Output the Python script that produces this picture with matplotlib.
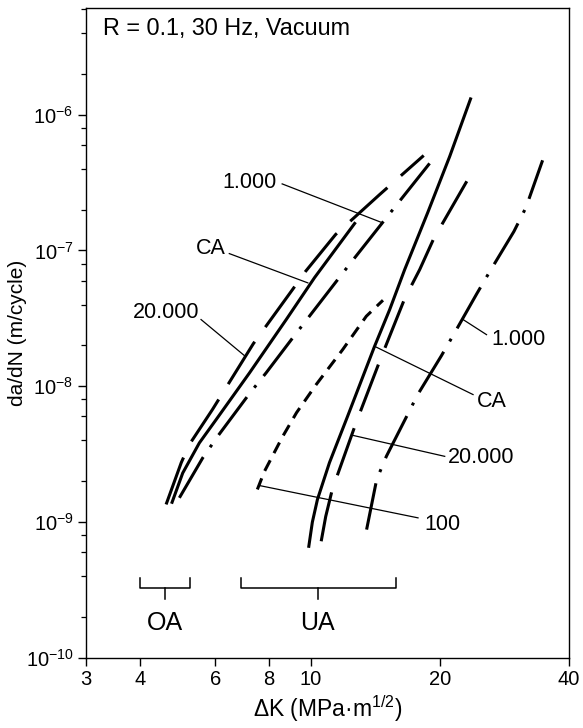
import numpy as np
import matplotlib
matplotlib.use('Agg')
import matplotlib.pyplot as plt
from matplotlib.ticker import FixedLocator, FuncFormatter, NullFormatter

plt.rcParams['font.family'] = ['Liberation Sans', 'DejaVu Sans']
plt.rcParams['mathtext.fontset'] = 'custom'
plt.rcParams['mathtext.rm'] = 'Liberation Sans'
plt.rcParams['mathtext.it'] = 'Liberation Sans:italic'
plt.rcParams['mathtext.bf'] = 'Liberation Sans:bold'
plt.rcParams['lines.scale_dashes'] = False

# ---------------- data ----------------
# OA (overaged) group
oa_20000_dk = [4.61, 5.00, 5.22, 5.91, 7.36, 9.08, 9.73, 11.44, 14.49, 18.35]
oa_20000_da = [1.35e-9, 2.74e-9, 3.72e-9, 6.74e-9, 2.06e-8, 5.15e-8, 6.99e-8, 1.31e-7, 2.58e-7, 5.0e-7]

oa_ca_dk = [4.76, 5.04, 5.51, 6.03, 7.21, 8.78, 10.22, 12.67]
oa_ca_da = [1.40e-9, 2.30e-9, 3.83e-9, 5.69e-9, 1.255e-8, 3.10e-8, 6.31e-8, 1.58e-7]

oa_1000_dk = [4.95, 5.61, 6.08, 7.21, 7.88, 9.21, 12.28, 15.23, 19.47]
oa_1000_da = [1.51e-9, 2.97e-9, 4.29e-9, 8.84e-9, 1.255e-8, 2.40e-8, 7.78e-8, 1.84e-7, 4.88e-7]

# UA (underaged) group
ua_ca_dk = [9.91, 10.10, 10.38, 11.07, 12.20, 14.10, 15.29, 16.57, 18.75, 21.10, 23.59]
ua_ca_da = [6.64e-10, 1.0e-9, 1.47e-9, 2.74e-9, 6.01e-9, 1.97e-8, 3.67e-8, 7.23e-8, 1.90e-7, 4.93e-7, 1.305e-6]

ua_20000_dk = [10.59, 10.85, 11.24, 12.78, 14.57, 16.57, 17.96, 19.36, 23.12]
ua_20000_da = [7.23e-10, 1.1e-9, 1.74e-9, 5.43e-9, 1.60e-8, 4.42e-8, 7.23e-8, 1.22e-7, 3.23e-7]

ua_1000_dk = [13.51, 14.26, 15.02, 16.75, 17.77, 20.18, 21.68, 24.40, 26.17, 29.77, 31.75, 34.72]
ua_1000_da = [8.81e-10, 2.06e-9, 3.05e-9, 6.01e-9, 8.69e-9, 1.68e-8, 2.49e-8, 4.81e-8, 7.02e-8, 1.38e-7, 2.07e-7, 4.61e-7]

ua_100_dk = [7.52, 7.81, 8.61, 9.28, 10.31, 11.88, 13.49, 14.75]
ua_100_da = [1.74e-9, 2.36e-9, 4.26e-9, 6.40e-9, 1.03e-8, 1.86e-8, 3.28e-8, 4.30e-8]

# curve labels: text, text anchor (dk, da), alignment, leader start, leader end
label_texts = ['1.000', 'CA', '20.000', '1.000', 'CA', '20.000', '100']
label_pos = [(8.35, 3.18e-7), (6.36, 1.026e-7), (5.51, 3.47e-8),
             (26.41, 2.21e-8), (24.36, 7.75e-9), (20.91, 2.97e-9), (18.45, 9.59e-10)]
label_ha = ['right', 'right', 'right', 'left', 'left', 'left', 'left']
leader_from = [(8.59, 3.09e-7), (6.47, 9.48e-8), (5.56, 3.10e-8),
               (25.70, 2.40e-8), (23.91, 8.69e-9), (20.54, 3.05e-9), (17.80, 1.075e-9)]
leader_to = [(14.62, 1.61e-7), (9.86, 5.77e-8), (7.02, 1.68e-8),
             (22.66, 3.10e-8), (14.10, 1.97e-8), (12.60, 4.34e-9), (7.60, 1.86e-9)]

# range brackets
bracket_names = ['OA', 'UA']
bracket_lo = [4.01, 6.89]
bracket_hi = [5.25, 15.8]
bracket_mid = [4.59, 10.4]

x_ticks = [3, 4, 6, 8, 10, 20, 40]
y_major = [1e-10, 1e-9, 1e-8, 1e-7, 1e-6]
y_minor = [m * 10.0 ** e for e in range(-10, -5) for m in (2, 4, 6, 8)]

# ---------------- figure ----------------
fig = plt.figure(figsize=(5.83, 7.28), dpi=100)
ax = fig.add_axes([0.1475, 0.0962, 0.8285, 0.8929])
ax.set_xscale('log')
ax.set_yscale('log')
ax.set_xlim(3, 40)
ax.set_ylim(1e-10, 6.1e-6)

lw = 2.2
long_dash = (0, (36, 13))
dash_dot = (0, (34, 8.6, 2.2, 8.6))
short_dash = (0, (8.6, 5.8))

ax.plot(oa_20000_dk, oa_20000_da, color='black', lw=lw, linestyle=long_dash)
ax.plot(oa_ca_dk, oa_ca_da, color='black', lw=lw, linestyle='-')
ax.plot(oa_1000_dk, oa_1000_da, color='black', lw=lw, linestyle=dash_dot)
ax.plot(ua_ca_dk, ua_ca_da, color='black', lw=lw, linestyle='-')
ax.plot(ua_20000_dk, ua_20000_da, color='black', lw=lw, linestyle=long_dash)
ax.plot(ua_1000_dk, ua_1000_da, color='black', lw=lw, linestyle=dash_dot)
ax.plot(ua_100_dk, ua_100_da, color='black', lw=lw, linestyle=short_dash)

for txt, pos, ha, a, b in zip(label_texts, label_pos, label_ha, leader_from, leader_to):
    ax.plot([a[0], b[0]], [a[1], b[1]], color='black', lw=0.9)
    ax.text(pos[0], pos[1], txt, ha=ha, va='center', fontsize=15.5)

# brackets
y_b = 3.3e-10
y_b_top = 3.9e-10
y_b_tick = 2.73e-10
for name, lo, hi, mid in zip(bracket_names, bracket_lo, bracket_hi, bracket_mid):
    ax.plot([lo, lo, hi, hi], [y_b_top, y_b, y_b, y_b_top], color='black', lw=1.1)
    ax.plot([mid, mid], [y_b, y_b_tick], color='black', lw=1.1)
    ax.text(mid, 1.8e-10, name, ha='center', va='center', fontsize=18)

ax.text(0.035, 0.968, 'R = 0.1, 30 Hz, Vacuum', transform=ax.transAxes,
        ha='left', va='center', fontsize=16.8)

# ticks
ax.xaxis.set_major_locator(FixedLocator(x_ticks))
ax.xaxis.set_major_formatter(FuncFormatter(lambda v, p: '%g' % v))
ax.xaxis.set_minor_locator(FixedLocator([]))
ax.yaxis.set_major_locator(FixedLocator(y_major))
ax.yaxis.set_major_formatter(FuncFormatter(lambda v, p: r'$10^{%d}$' % int(round(np.log10(v)))))
ax.yaxis.set_minor_locator(FixedLocator(y_minor))
ax.yaxis.set_minor_formatter(NullFormatter())
ax.tick_params(axis='both', which='major', direction='out', length=6, width=1.0,
               labelsize=14.5, pad=3)
ax.tick_params(axis='y', which='minor', direction='out', length=3.5, width=0.9)
for s in ax.spines.values():
    s.set_linewidth(1.0)

ax.set_xlabel(r'ΔK (MPa·m$^{1/2}$)', fontsize=16.5, labelpad=3)
ax.set_ylabel('da/dN (m/cycle)', fontsize=15)
ax.yaxis.set_label_coords(-0.122, 0.5)

fig.savefig('out.png', dpi=100)
